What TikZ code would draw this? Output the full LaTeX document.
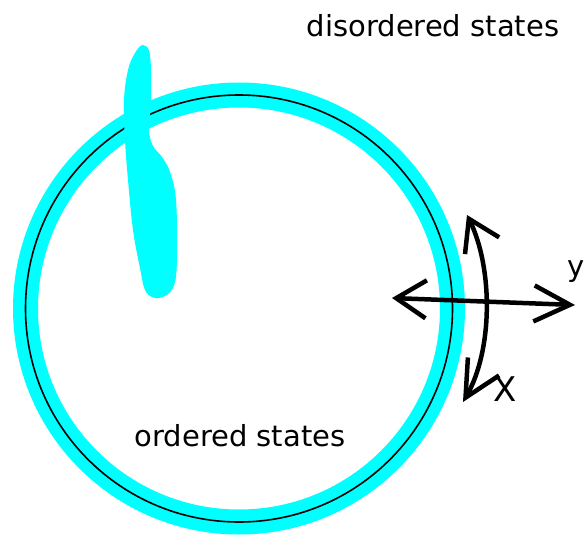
\documentclass[tikz,border=0pt]{standalone}
\usepackage{fontspec}
\setmainfont{DejaVu Sans}
\usetikzlibrary{arrows.meta}
\definecolor{cyanx}{RGB}{0,255,255}
\begin{document}
\begin{tikzpicture}[x=1pt,y=-1pt,
  ring/.style={draw=cyanx,line width=25pt},
  thin/.style={draw=black,line width=1.6pt},
  dbl/.style={draw=black,line width=4.5pt,line cap=round,
    {Straight Barb[length=30pt,width=38pt,line width=4.5pt]}-{Straight Barb[length=36pt,width=36pt,line width=4.5pt]}},
  lbl/.style={font=\fontsize{29}{32}\selectfont,inner sep=0pt}]
\useasboundingbox (0,0) rectangle (586,535);
\coordinate (c) at (239,308.5);
\draw[ring] (c) circle[radius=213.5];
\draw[thin] (c) circle[radius=213.5];
\fill[cyanx] plot[smooth cycle,tension=0.6] coordinates {
 (143,45) (150,55) (151,100) (149,130) (153,146) (162,157) (170,172) (176,200) (177,260) (173,288)
 (159,298) (146,292) (140,268) (133,230) (128,180) (125,140) (124,100) (128,70) (135,53)};
\coordinate (hl) at (392,298);
\coordinate (hr) at (575,305);
\coordinate (vt) at (467,215);
\coordinate (vb) at (463,402);
\draw[dbl] (hl) -- (hr);
\draw[dbl] (vt) .. controls (493,268) and (493,350) .. (vb);
\node[lbl,anchor=center] (ord) at (240,436) {ordered states};
\node[lbl,anchor=center] (dis) at (433,26) {disordered states};
\node[lbl,anchor=east] (y) at (585,272) {y};
\node[lbl,anchor=center,font=\fontsize{34}{36}\selectfont] (x) at (505,389) {X};
\end{tikzpicture}
\end{document}
